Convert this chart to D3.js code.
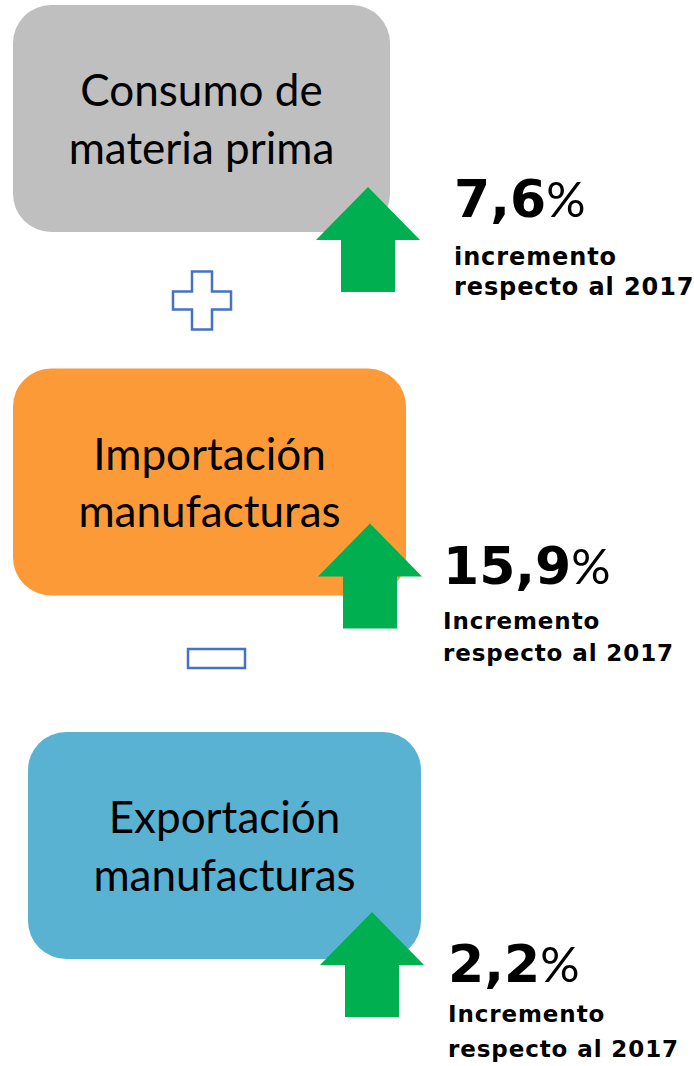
<!DOCTYPE html>
<html lang="es">
<head>
    <meta charset="UTF-8">
    <title>Consumo aparente</title>
    <script src="https://d3js.org/d3.v7.min.js"></script>
    <style>
        body { margin: 0; background: #fff; }
        svg { display: block; }
    </style>
</head>
<body>
    <div id="chart"></div>
    <script>
        // data
        const boxLabels = [
            ["Consumo de", "materia prima"],
            ["Importación", "manufacturas"],
            ["Exportación", "manufacturas"]
        ];
        const growth = ["7,6", "15,9", "2,2"];
        const captions = [
            ["incremento", "respecto al 2017"],
            ["Incremento", "respecto al 2017"],
            ["Incremento", "respecto al 2017"]
        ];
        const operators = ["+", "-"];
        const boxColors = ["#bfbfbf", "#fd9a38", "#5ab2d2"];

        const width = 694, height = 1066;
        const svg = d3.select("#chart").append("svg")
            .attr("width", width)
            .attr("height", height);

        // one row per box
        const y = d3.scaleBand()
            .domain(d3.range(boxLabels.length))
            .range([5, 5 + 363.5 * 3]);

        // per-row offsets, the shapes in the original are not perfectly aligned
        const layout = [
            { x: 13, w: 377, arrowX: 368, tip: 182, pctX: 454, pctY: 212, capY: 260, capGap: 30, capSize: 24 },
            { x: 13, w: 393, arrowX: 370, tip: 155, pctX: 443, pctY: 215, capY: 260, capGap: 32, capSize: 23 },
            { x: 28, w: 393, arrowX: 372, tip: 180, pctX: 448, pctY: 250, capY: 290, capGap: 35, capSize: 23 }
        ];
        const boxH = 227;

        const rows = svg.selectAll("g.row")
            .data(boxLabels)
            .join("g")
            .attr("class", "row")
            .attr("transform", (d, i) => `translate(0,${y(i)})`);

        rows.append("rect")
            .attr("x", (d, i) => layout[i].x)
            .attr("width", (d, i) => layout[i].w)
            .attr("height", boxH)
            .attr("rx", 38)
            .attr("fill", (d, i) => boxColors[i]);

        rows.append("text")
            .attr("text-anchor", "middle")
            .attr("font-family", "Lato, 'Open Sans', sans-serif")
            .attr("font-size", 44)
            .attr("fill", "#000")
            .selectAll("tspan")
            .data((d, i) => d.map(t => ({ t, i })))
            .join("tspan")
            .attr("x", d => layout[d.i].x + layout[d.i].w / 2)
            .attr("y", (d, j) => 101 + j * 57.5)
            .text(d => d.t);

        // green up arrows
        const arrow = d3.line();
        rows.append("path")
            .attr("fill", "#00b050")
            .attr("d", (d, i) => {
                const cx = layout[i].arrowX, t = layout[i].tip;
                return arrow([
                    [cx, t], [cx + 52, t + 53], [cx + 27, t + 53], [cx + 27, t + 105],
                    [cx - 27, t + 105], [cx - 27, t + 53], [cx - 52, t + 53]
                ]) + "Z";
            });

        const pct = rows.append("text")
            .attr("x", (d, i) => layout[i].pctX)
            .attr("y", (d, i) => layout[i].pctY)
            .attr("fill", "#000");
        pct.append("tspan")
            .attr("font-family", "'DejaVu Sans', sans-serif")
            .attr("font-size", 52)
            .attr("font-weight", "bold")
            .text((d, i) => growth[i]);
        pct.append("tspan")
            .attr("font-family", "Lato, sans-serif")
            .attr("font-size", 49)
            .text("%");

        rows.append("text")
            .attr("font-family", "'DejaVu Sans', sans-serif")
            .attr("font-weight", "bold")
            .attr("font-size", (d, i) => layout[i].capSize)
            .attr("letter-spacing", 0.9)
            .attr("fill", "#000")
            .selectAll("tspan")
            .data((d, i) => captions[i].map(t => ({ t, i })))
            .join("tspan")
            .attr("x", d => layout[d.i].pctX)
            .attr("y", (d, j) => layout[d.i].capY + j * layout[d.i].capGap)
            .text(d => d.t);

        // operators between boxes (outlined + and -)
        const opG = svg.append("g")
            .attr("fill", "#fff")
            .attr("stroke", "#4472c4")
            .attr("stroke-width", 2.5);
        operators.forEach((op, k) => {
            const cy = y(k) + boxH + (op === "+" ? 68.5 : 63);
            if (op === "+") {
                const cx = 202, a = 29, b = 10, h = 9;
                opG.append("path").attr("d",
                    `M${cx - b},${cy - a}H${cx + b}V${cy - h}H${cx + a}V${cy + h}H${cx + b}V${cy + a}` +
                    `H${cx - b}V${cy + h}H${cx - a}V${cy - h}H${cx - b}Z`);
            } else {
                opG.append("rect")
                    .attr("x", 188).attr("y", cy - 9.5)
                    .attr("width", 57).attr("height", 19);
            }
        });
    </script>
</body>
</html>
